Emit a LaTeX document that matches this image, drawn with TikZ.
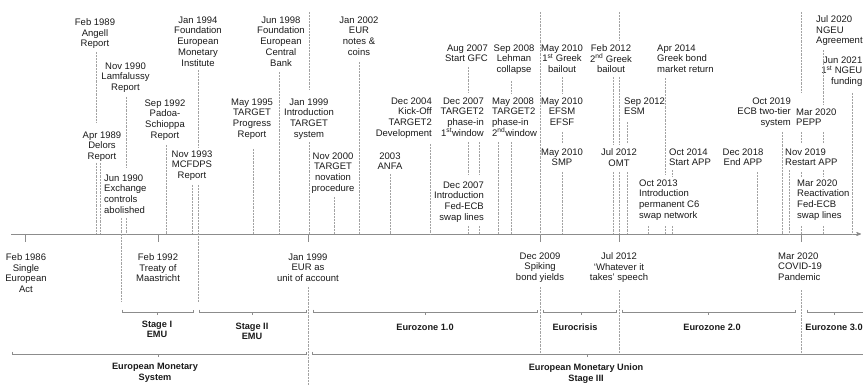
\documentclass[tikz,border=0pt]{standalone}
\usepackage{fontspec}
\setsansfont{Liberation Sans}
\usetikzlibrary{arrows}
\definecolor{txt}{HTML}{1A1A1A}
\definecolor{rulegray}{HTML}{8C8C8C}
\definecolor{guidegray}{HTML}{A3A3A3}
\tikzset{
	event/.style = {
		align=center,
		inner sep=0pt,
		anchor=north,
		text=txt,
		font=\sffamily\fontsize{9.5}{10.75}\selectfont
	},
	event_l/.style = {
		event,
		align=left,
		anchor=north west
	},
	event_r/.style = {
		event,
		align=right,
		anchor=north east
	},
	era/.style = {
		event,
		font=\sffamily\bfseries\fontsize{9.2}{10.75}\selectfont
	},
	guide/.style = {
		draw=guidegray,
		densely dotted,
		line width=0.45pt
	},
	span_brace/.style = {
		draw=rulegray,
		line width=0.5pt
	},
	axis_tick/.style = {
		draw=rulegray,
		line width=0.6pt
	},
}

\begin{document}
\begin{tikzpicture}[x=1pt,y=-1pt,>=stealth']
\useasboundingbox (0,0) rectangle (863,385);

% time axis
\coordinate (axis_start) at (11,234);
\coordinate (axis_end) at (861,234);
\draw [rulegray, line width=0.7pt, ->] (axis_start) -- (axis_end);
\draw [axis_tick] (25,234) -- (25,242) (158,234) -- (158,242) (308,234) -- (308,242)
	(540,234) -- (540,242) (619,234) -- (619,242) (801,234) -- (801,242);

% events above the axis
\node [event] (feb89) at (95,18.4) {Feb 1989\\Angell\\Report};
\node [event] (apr89) at (102,131.4) {Apr 1989\\Delors\\Report};
\node [event] (nov90) at (125.5,62.4) {Nov 1990\\Lamfalussy\\Report};
\node [event_l] (jun90) at (104,174.4) {Jun 1990\\Exchange\\controls\\abolished};
\node [event] (sep92) at (165,99.4) {Sep 1992\\Padoa-\\Schioppa\\Report};
\node [event] (nov93) at (192,150.4) {Nov 1993\\MCFDPS\\Report};
\node [event] (jan94) at (198,16.4) {Jan 1994\\Foundation\\European\\Monetary\\Institute};
\node [event] (may95) at (252,98.4) {May 1995\\TARGET\\Progress\\Report};
\node [event] (jun98) at (281,16.4) {Jun 1998\\Foundation\\European\\Central\\Bank};
\node [event] (jan99a) at (309,98.4) {Jan 1999\\Introduction\\TARGET\\system};
\node [event] (nov00) at (333,152.4) {Nov 2000\\TARGET\\novation\\procedure};
\node [event] (jan02) at (359,16.4) {Jan 2002\\EUR\\notes \&\\coins};
\node [event] (anfa) at (390,152.4) {2003\\ANFA};
\node [event_r] (dec04) at (432,97.4) {Dec 2004\\Kick-Off\\TARGET2\\Development};
\node [event_r] (aug07) at (488,44.4) {Aug 2007\\Start GFC};
\node [event_r] (dec07a) at (484,97.4) {Dec 2007\\TARGET2\\phase-in\\1\textsuperscript{st}window};
\node [event_r] (dec07b) at (484,181.4) {Dec 2007\\Introduction\\Fed-ECB\\swap lines};
\node [event] (sep08) at (514,44.4) {Sep 2008\\Lehman\\collapse};
\node [event_l] (may08) at (492,97.4) {May 2008\\TARGET2\\phase-in\\2\textsuperscript{nd}window};
\node [event] (may10a) at (562,44.4) {May 2010\\1\textsuperscript{st} Greek\\bailout};
\node [event] (may10b) at (562,97.4) {May 2010\\EFSM\\EFSF};
\node [event] (may10c) at (562,148.4) {May 2010\\SMP};
\node [event] (feb12) at (611,44.4) {Feb 2012\\2\textsuperscript{nd} Greek\\bailout};
\node [event_l] (sep12) at (624,97.4) {Sep 2012\\ESM};
\node [event] (jul12a) at (619,148.4) {Jul 2012\\OMT};
\node [event_l] (apr14) at (657,44.4) {Apr 2014\\Greek bond\\market return};
\node [event_l] (oct14) at (669,148.4) {Oct 2014\\Start APP};
\node [event_l] (oct13) at (639,179.4) {Oct 2013\\Introduction\\permanent C6\\swap network};
\node [event] (dec18) at (743,148.4) {Dec 2018\\End APP};
\node [event_r] (oct19) at (791,97.4) {Oct 2019\\ECB two-tier\\system};
\node [event_l] (mar20a) at (796,108.4) {Mar 2020\\PEPP};
\node [event_l] (nov19) at (785,148.4) {Nov 2019\\Restart APP};
\node [event_l] (mar20b) at (797,179.4) {Mar 2020\\Reactivation\\Fed-ECB\\swap lines};
\node [event_l] (jul20) at (816,15.4) {Jul 2020\\NGEU\\Agreement};
\node [event_r] (jun21) at (862.5,56.4) {Jun 2021\\1\textsuperscript{st} NGEU\\funding};

% events below the axis
\node [event] (feb86) at (26,253.4) {Feb 1986\\Single\\European\\Act};
\node [event] (feb92) at (158,253.4) {Feb 1992\\Treaty of\\Maastricht};
\node [event] (jan99b) at (308,253.4) {Jan 1999\\EUR as\\unit of account};
\node [event] (dec09) at (540,252.4) {Dec 2009\\Spiking\\bond yields};
\node [event] (jul12b) at (619,252.4) {Jul 2012\\‘Whatever it\\takes’ speech};
\node [event_l] (mar20c) at (778,252.4) {Mar 2020\\COVID-19\\Pandemic};

% dotted guides
\draw [guide] (96,52) -- (96,123) (96,163) -- (96,234);
\draw [guide] (100,163) -- (100,234);
\draw [guide] (126,97) -- (126,168) (126,218) -- (126,234);
\draw [guide] (121,218) -- (121,302);
\draw [guide] (166,145) -- (166,234);
\draw [guide] (192,185) -- (192,234);
\draw [guide] (198,70) -- (198,147) (198,185) -- (198,302);
\draw [guide] (253,149) -- (253,234);
\draw [guide] (279,72) -- (279,234);
\draw [guide] (309,12) -- (309,90) (309,142) -- (309,234) (308,287) -- (308,385);
\draw [guide] (334,197) -- (334,234);
\draw [guide] (359,62) -- (359,234);
\draw [guide] (390,174) -- (390,234);
\draw [guide] (430,144) -- (430,234);
\draw [guide] (468,67) -- (468,92) (468,142) -- (468,175) (468,226) -- (468,234);
\draw [guide] (479,142) -- (479,175) (479,226) -- (479,234);
\draw [guide] (498,142) -- (498,234);
\draw [guide] (511,81) -- (511,93) (511,142) -- (511,234);
\draw [guide] (540,12) -- (540,234) (540,287) -- (540,355);
\draw [guide] (562,77) -- (562,93) (562,132) -- (562,143) (562,172) -- (562,234);
\draw [guide] (613,77) -- (613,145) (613,172) -- (613,234);
\draw [guide] (619,12) -- (619,40) (619,77) -- (619,145) (619,172) -- (619,234) (619,290) -- (619,355);
\draw [guide] (627,122) -- (627,143) (627,172) -- (627,234);
\draw [guide] (648,226) -- (648,234);
\draw [guide] (665,78) -- (665,175) (665,226) -- (665,234);
\draw [guide] (672,170) -- (672,176) (672,226) -- (672,234);
\draw [guide] (757,172) -- (757,234);
\draw [guide] (782,132) -- (782,234);
\draw [guide] (789,170) -- (789,234);
\draw [guide] (801,12) -- (801,92) (801,132) -- (801,143) (801,172) -- (801,177) (801,226) -- (801,234) (801,290) -- (801,355);
\draw [guide] (823,50) -- (823,105) (823,132) -- (823,143) (823,170) -- (823,176) (823,226) -- (823,234);
\draw [guide] (852,93) -- (852,234);

% periods
\draw [span_brace] (122,309.5) -- (122,312) -- (193,312) -- (193,309.5) (157,312) -- (157,314.5);
\draw [span_brace] (199,309.5) -- (199,312) -- (306,312) -- (306,309.5) (252,312) -- (252,314.5);
\draw [span_brace] (313,309.5) -- (313,312) -- (537,312) -- (537,309.5) (425,312) -- (425,314.5);
\draw [span_brace] (543,309.5) -- (543,312) -- (616,312) -- (616,309.5) (581,312) -- (581,314.5);
\draw [span_brace] (622,309.5) -- (622,312) -- (795,312) -- (795,309.5) (708,312) -- (708,314.5);
\draw [span_brace] (807,309.5) -- (807,312) -- (870,312) (834,312) -- (834,314.5);
\draw [span_brace] (12,351.5) -- (12,354) -- (306,354) -- (306,351.5) (158,354) -- (158,356.5);
\draw [span_brace] (312,351.5) -- (312,354) -- (870,354) (587,354) -- (587,356.5);

\node [era] (stage1) at (157,320.4) {Stage I\\EMU};
\node [era] (stage2) at (252,322.4) {Stage II\\EMU};
\node [era] (ez1) at (425,323.4) {Eurozone 1.0};
\node [era] (ezcrisis) at (575,323.4) {Eurocrisis};
\node [era] (ez2) at (712,323.4) {Eurozone 2.0};
\node [era] (ez3) at (834,323.4) {Eurozone 3.0};
\node [era] (ems) at (155,363.4) {European Monetary\\System};
\node [era] (emu) at (586,363.4) {European Monetary Union\\Stage III};
\end{tikzpicture}
\end{document}
